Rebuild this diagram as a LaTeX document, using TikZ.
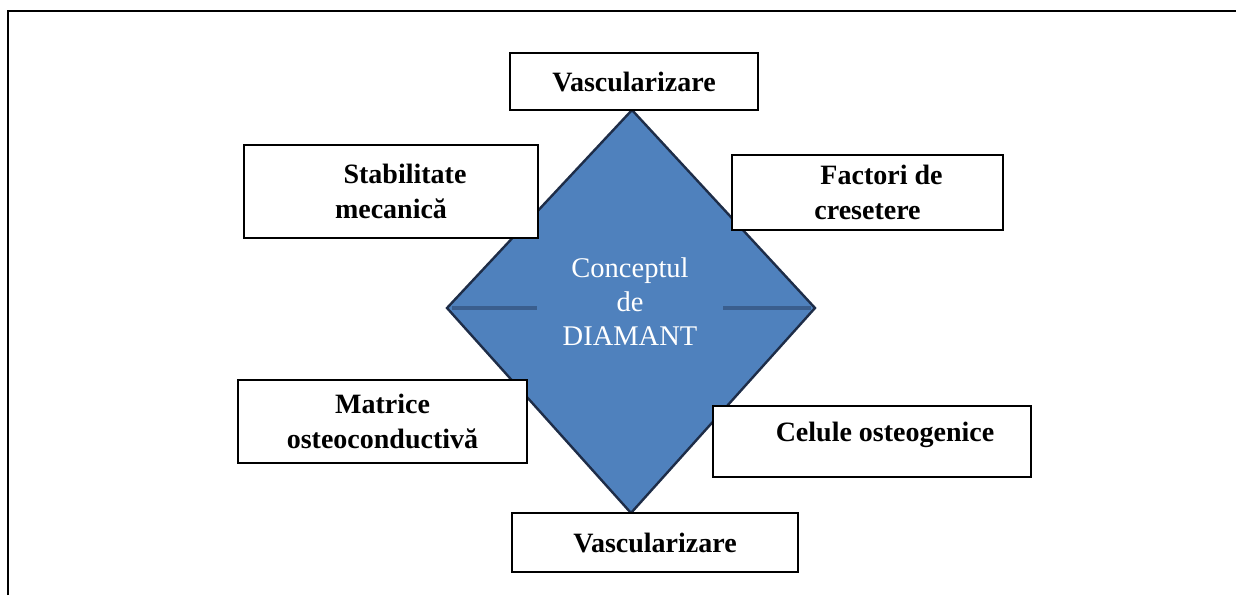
\documentclass[tikz,border=0pt]{standalone}
\usepackage{fontspec}
\setmainfont{Liberation Serif}
\begin{document}
\begin{tikzpicture}[x=1pt,y=-1pt,
  lbl/.style={draw=black, line width=2pt, fill=white, inner sep=0pt,
    font=\bfseries\fontsize{28}{35}\selectfont, align=center},
  diafill/.style={fill={rgb,255:red,79;green,129;blue,189}, draw={rgb,255:red,30;green,45;blue,72}, line width=2.4pt, line join=miter},
  stub/.style={draw={rgb,255:red,58;green,94;blue,142}, line width=3.4pt},
  frame/.style={line width=2.2pt}]
\useasboundingbox (0,0) rectangle (1236,595);
\draw[frame] (8,595) -- (8,11) -- (1236,11);
% diamond
\coordinate (dtop) at (632,110);
\coordinate (dright) at (815,308);
\coordinate (dbot) at (631,513);
\coordinate (dleft) at (447,308);
\draw[diafill] (dtop) -- (dright) -- (dbot) -- (dleft) -- cycle;
\coordinate (lstub) at (537,308);
\coordinate (rstub) at (723,308);
\draw[stub] ([xshift=5pt]dleft) -- (lstub);
\draw[stub] (rstub) -- ([xshift=-4pt]dright);
\node[text=white, align=center, font=\fontsize{28.5}{34}\selectfont] (concept) at (630,302) {Conceptul\\de\\DIAMANT};
% boxes
\node[lbl, minimum width=248pt, minimum height=57pt] (vtop) at (634,81.5) {Vascularizare};
\node[lbl, minimum width=294pt, minimum height=93pt] (stab) at (391,191.5) {\hspace*{28pt}Stabilitate\\mecanică};
\node[lbl, minimum width=271pt, minimum height=75pt] (fact) at (867.5,192.5) {\hspace*{28pt}Factori de\\cresetere};
\node[lbl, minimum width=289pt, minimum height=83pt] (matr) at (382.5,421.5) {Matrice\\osteoconductivă};
\node[lbl, minimum width=318pt, minimum height=71pt, text depth=20pt] (celu) at (872,441.5) {\hspace*{26pt}Celule osteogenice};
\node[lbl, minimum width=286pt, minimum height=59pt] (vbot) at (655,542.5) {Vascularizare};
\end{tikzpicture}
\end{document}
